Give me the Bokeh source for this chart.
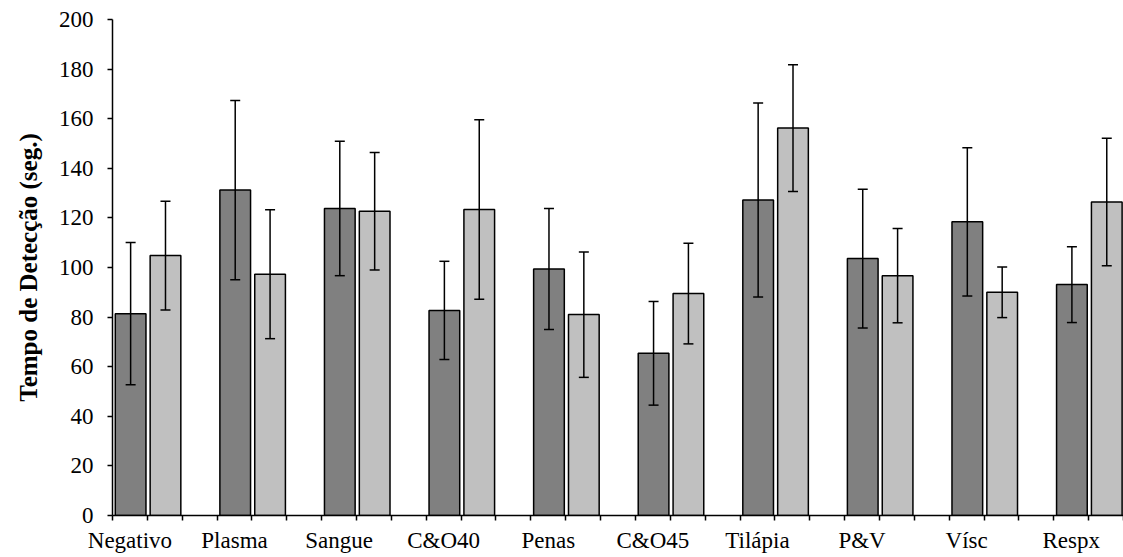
from bokeh.plotting import figure
from bokeh.models import Range1d, FixedTicker, Whisker, TeeHead, ColumnDataSource
from bokeh.embed import file_html
from bokeh.resources import INLINE

categories = ["Negativo", "Plasma", "Sangue", "C&O40", "Penas", "C&O45",
              "Tilápia", "P&V", "Vísc", "Respx"]
series1 = [81.4, 131.2, 123.8, 82.7, 99.4, 65.4, 127.2, 103.6, 118.4, 93.1]
err1 = [28.7, 36.1, 27.1, 19.8, 24.4, 20.9, 39.1, 28.0, 29.9, 15.3]
series2 = [104.8, 97.3, 122.7, 123.4, 81.0, 89.5, 156.2, 96.7, 90.0, 126.4]
err2 = [21.9, 26.0, 23.7, 36.2, 25.3, 20.3, 25.6, 19.0, 10.2, 25.7]
y_ticks = [0, 20, 40, 60, 80, 100, 120, 140, 160, 180, 200]

FONT = "Liberation Serif"
n = len(categories)
x1 = [3 * i + 0.52 for i in range(n)]
x2 = [3 * i + 1.52 for i in range(n)]

src1 = ColumnDataSource(dict(x=x1, top=series1,
                             upper=[v + e for v, e in zip(series1, err1)],
                             lower=[v - e for v, e in zip(series1, err1)]))
src2 = ColumnDataSource(dict(x=x2, top=series2,
                             upper=[v + e for v, e in zip(series2, err2)],
                             lower=[v - e for v, e in zip(series2, err2)]))

p = figure(width=1123, height=557, output_backend="svg", toolbar_location=None,
           x_range=Range1d(0, 3 * n - 1), y_range=Range1d(0, 200),
           min_border_left=112, min_border_top=19, min_border_right=0,
           min_border_bottom=42)
p.outline_line_color = None
p.xgrid.visible = False
p.ygrid.visible = False

p.vbar(x="x", top="top", bottom=0, width=0.88, source=src1,
       fill_color="#808080", line_color="black", line_width=1.5)
p.vbar(x="x", top="top", bottom=0, width=0.88, source=src2,
       fill_color="#C0C0C0", line_color="black", line_width=1.5)

for src in (src1, src2):
    w = Whisker(base="x", upper="upper", lower="lower", source=src,
                line_color="black", line_width=1.5, level="overlay",
                upper_head=TeeHead(size=10, line_color="black", line_width=1.5),
                lower_head=TeeHead(size=10, line_color="black", line_width=1.5))
    p.add_layout(w)

# x axis
label_pos = [3 * i + 0.5 for i in range(n)]
p.xaxis.ticker = FixedTicker(ticks=label_pos, minor_ticks=list(range(3 * n)))
p.xaxis.major_label_overrides = {pos: c for pos, c in zip(label_pos, categories)}
p.xaxis.major_tick_line_color = None
p.xaxis.minor_tick_line_color = "black"
p.xaxis.minor_tick_line_width = 1.5
p.xaxis.minor_tick_out = 5
p.xaxis.minor_tick_in = 0
p.xaxis.axis_line_color = "black"
p.xaxis.axis_line_width = 1.5
p.xaxis.major_label_text_font = FONT
p.xaxis.major_label_text_font_size = "23px"
p.xaxis.major_label_text_color = "black"
p.xaxis.major_label_standoff = 6

# y axis
p.yaxis.ticker = FixedTicker(ticks=y_ticks)
p.yaxis.minor_tick_line_color = None
p.yaxis.major_tick_line_color = "black"
p.yaxis.major_tick_line_width = 1.5
p.yaxis.major_tick_out = 5
p.yaxis.major_tick_in = 0
p.yaxis.axis_line_color = "black"
p.yaxis.axis_line_width = 1.5
p.yaxis.major_label_text_font = FONT
p.yaxis.major_label_text_font_size = "23px"
p.yaxis.major_label_text_color = "black"
p.yaxis.major_label_standoff = 14
p.yaxis.axis_label = "Tempo de Detecção (seg.)"
p.yaxis.axis_label_text_font = FONT
p.yaxis.axis_label_text_font_style = "bold"
p.yaxis.axis_label_text_font_size = "25px"
p.yaxis.axis_label_text_color = "black"
p.yaxis.axis_label_standoff = 14

open("out.html", "w").write(file_html(p, INLINE))
